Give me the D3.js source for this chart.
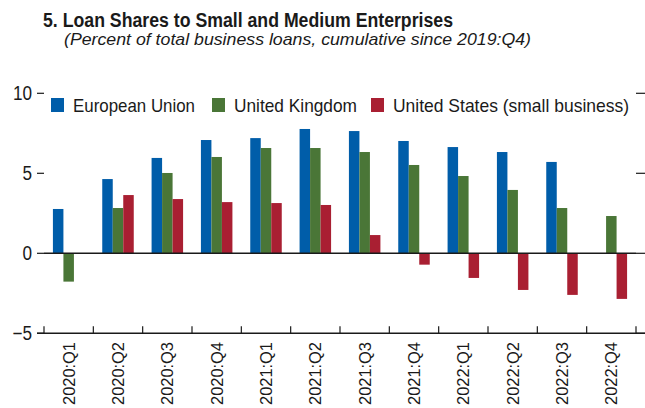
<!DOCTYPE html>
<html>
<head>
<meta charset="utf-8">
<script src="https://cdn.jsdelivr.net/npm/d3@7"></script>
<style>
  body { margin: 0; background: #fff; }
  text { font-family: "Liberation Sans", Arial, sans-serif; fill: #1a1a1a; }
</style>
</head>
<body>
<div id="chart"></div>
<script>
var quarters = ['2020:Q1', '2020:Q2', '2020:Q3', '2020:Q4', '2021:Q1', '2021:Q2',
                '2021:Q3', '2021:Q4', '2022:Q1', '2022:Q2', '2022:Q3', '2022:Q4'];
var seriesNames = ['European Union', 'United Kingdom', 'United States (small business)'];
var euValues = [2.77, 4.64, 5.96, 7.08, 7.2, 7.77, 7.64, 7.02, 6.64, 6.33, 5.71, null];
var ukValues = [-1.77, 2.83, 5.02, 6.02, 6.58, 6.58, 6.33, 5.52, 4.83, 3.96, 2.83, 2.33];
var usValues = [null, 3.64, 3.39, 3.2, 3.14, 3.02, 1.14, -0.71, -1.54, -2.29, -2.6, -2.85];
var colors = ['#005da9', '#4a7637', '#a91f32'];
var yTicks = [-5, 0, 5, 10];

const width = 645;
const height = 408;

// the original font is a condensed sans; squeeze the text to match
function condense(sel, factor){
    sel.each(function(){
        const w = this.getComputedTextLength();
        d3.select(this)
            .attr('textLength', w * factor)
            .attr('lengthAdjust', 'spacingAndGlyphs');
    });
}

let svg = d3.select('#chart')
    .append('svg')
    .attr('width', width)
    .attr('height', height);

const xScale = d3.scaleBand()
    .domain(quarters)
    .range([44, 636]);

const groupWidth = 31.5;
const x1 = d3.scaleBand()
    .domain(seriesNames)
    .range([0, groupWidth]);

const yScale = d3.scaleLinear()
    .domain([-5, 10])
    .range([333.3, 93.3]);

// title
svg.append('text')
    .attr('x', 43)
    .attr('y', 27)
    .attr('font-size', 19.5)
    .attr('font-weight', 'bold')
    .attr('textLength', 410)
    .attr('lengthAdjust', 'spacingAndGlyphs')
    .text('5. Loan Shares to Small and Medium Enterprises');

svg.append('text')
    .attr('x', 64)
    .attr('y', 45)
    .attr('font-size', 17)
    .attr('font-style', 'italic')
    .attr('textLength', 467)
    .attr('lengthAdjust', 'spacingAndGlyphs')
    .text('(Percent of total business loans, cumulative since 2019:Q4)');

// y ticks both sides
yTicks.forEach(function(t){
    svg.append('line')
        .attr('x1', 37).attr('x2', 44)
        .attr('y1', yScale(t)).attr('y2', yScale(t))
        .attr('stroke', '#1a1a1a').attr('stroke-width', 1.2);
    svg.append('line')
        .attr('x1', 636).attr('x2', 645)
        .attr('y1', yScale(t)).attr('y2', yScale(t))
        .attr('stroke', '#1a1a1a').attr('stroke-width', 1.2);
    svg.append('text')
        .attr('class', 'ytick')
        .attr('x', 32)
        .attr('y', yScale(t))
        .attr('dy', '0.35em')
        .attr('text-anchor', 'end')
        .attr('font-size', 19.5)
        .text(t < 0 ? '\u2212' + Math.abs(t) : t);
});
condense(svg.selectAll('.ytick'), 0.88);

// bars
const allSeries = [euValues, ukValues, usValues];
allSeries.forEach(function(vals, s){
    svg.append('g')
        .selectAll('rect')
        .data(vals.map((v, i) => ({q: quarters[i], v: v})).filter(d => d.v !== null))
        .enter()
        .append('rect')
        .attr('x', (d) => xScale(d.q) + (xScale.bandwidth() - groupWidth) / 2 + x1(seriesNames[s]))
        .attr('width', x1.bandwidth())
        .attr('y', (d) => yScale(Math.max(0, d.v)))
        .attr('height', (d) => Math.abs(yScale(d.v) - yScale(0)))
        .attr('fill', colors[s]);
});

// zero line
svg.append('line')
    .attr('x1', 44).attr('x2', 636)
    .attr('y1', yScale(0)).attr('y2', yScale(0))
    .attr('stroke', '#1a1a1a').attr('stroke-width', 1.5);

// bottom axis
svg.append('line')
    .attr('x1', 37).attr('x2', 645)
    .attr('y1', yScale(-5)).attr('y2', yScale(-5))
    .attr('stroke', '#1a1a1a').attr('stroke-width', 1.5);

const bounds = quarters.map((q) => xScale(q)).concat([xScale.range()[1]]);
svg.append('g')
    .selectAll('line')
    .data(bounds)
    .enter()
    .append('line')
    .attr('x1', (d) => d).attr('x2', (d) => d)
    .attr('y1', yScale(-5)).attr('y2', yScale(-5) - 7)
    .attr('stroke', '#1a1a1a').attr('stroke-width', 1.2);

svg.append('g')
    .selectAll('text')
    .data(quarters)
    .enter()
    .append('text')
    .attr('transform', (d) => `translate(${xScale(d) + xScale.bandwidth() / 2},342) rotate(-90)`)
    .attr('text-anchor', 'end')
    .attr('dy', '0.36em')
    .attr('font-size', 17)
    .attr('textLength', 63)
    .attr('lengthAdjust', 'spacingAndGlyphs')
    .text((d) => d);

// legend
const legendX = [51, 212, 371];
const legendLen = [122, 123, 236];
seriesNames.forEach(function(name, i){
    svg.append('rect')
        .attr('x', legendX[i])
        .attr('y', 98)
        .attr('width', 13)
        .attr('height', 14)
        .attr('fill', colors[i]);
    svg.append('text')
        .attr('x', legendX[i] + 22)
        .attr('y', 111.5)
        .attr('font-size', 19)
        .attr('textLength', legendLen[i])
        .attr('lengthAdjust', 'spacingAndGlyphs')
        .text(name);
});
</script>
</body>
</html>
